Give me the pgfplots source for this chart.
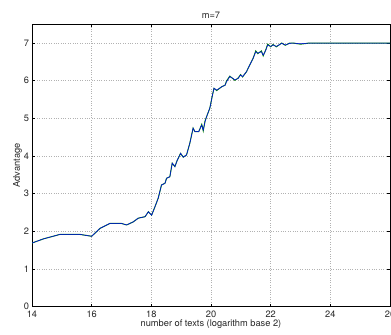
\documentclass[border=0pt]{standalone}
\usepackage{fontspec}
\setmainfont{TeX Gyre Heros}
\usepackage{pgfplots}
\pgfplotsset{compat=1.18}
\begin{document}
\begin{tikzpicture}[x=1bp,y=1bp]
\begin{axis}[
  at={(32bp,28.3bp)}, anchor=south west,
  scale only axis, width=358bp, height=282.5bp,
  xmin=14, xmax=26, ymin=0, ymax=7.5,
  xtick={14,16,...,26}, ytick={0,1,...,7},
  tick align=inside, major tick length=3bp,
  tick style={black, line width=0.5pt},
  axis line style={black, line width=0.9pt},
  grid=major, major grid style={gray!60, dotted, line width=0.6pt},
  tick label style={font=\fontsize{9.3}{11}\selectfont, text=black!85},
  /pgf/number format/assume math mode=true,
  xticklabel style={yshift=-0.5bp},
  yticklabel style={xshift=0.5bp},
  title={m=7}, title style={font=\fontsize{9.3}{11}\selectfont, yshift=-4bp, text=black!85},
  xlabel={number of texts (logarithm base 2)},
  ylabel={Advantage},
  label style={font=\fontsize{9.3}{11}\selectfont, text=black!85},
  xlabel style={yshift=4.5bp},
  ylabel style={yshift=-5bp},
]
\addplot[color={rgb,1:red,0;green,0.5;blue,0}, line width=1.0pt] coordinates {
(14.00,1.69)(14.38,1.80)(14.94,1.92)(15.6,1.92)(16.0,1.87)(16.28,2.08)(16.61,2.21)
(17.0,2.21)(17.17,2.17)(17.39,2.25)(17.56,2.35)(17.79,2.39)(17.90,2.52)(18.01,2.43)
(18.12,2.65)(18.23,2.88)(18.34,3.23)(18.46,3.28)(18.51,3.41)(18.62,3.45)(18.70,3.81)
(18.79,3.72)(18.87,3.89)(18.98,4.07)(19.07,3.97)(19.18,4.03)(19.29,4.34)(19.40,4.74)
(19.46,4.65)(19.59,4.65)(19.69,4.84)(19.74,4.67)(19.80,4.93)(19.85,5.04)(19.96,5.27)
(20.05,5.62)(20.10,5.80)(20.19,5.74)(20.36,5.84)(20.47,5.88)(20.52,5.99)(20.63,6.12)
(20.74,6.05)(20.80,6.01)(20.91,6.07)(20.99,6.16)(21.06,6.10)(21.19,6.24)(21.30,6.42)
(21.41,6.59)(21.50,6.79)(21.57,6.72)(21.69,6.79)(21.75,6.66)(21.84,6.83)(21.90,6.97)
(22.0,6.90)(22.08,6.96)(22.19,6.90)(22.37,7.00)(22.49,6.94)(22.64,7.00)(22.75,7.00)
(23.0,6.97)(23.3,7.0)(24,7.0)(25,7.0)(26,7.0)
};
\addplot[color=blue, line width=0.5pt] coordinates {
(14.00,1.69)(14.38,1.80)(14.94,1.92)(15.6,1.92)(16.0,1.87)(16.28,2.08)(16.61,2.21)
(17.0,2.21)(17.17,2.17)(17.39,2.25)(17.56,2.35)(17.79,2.39)(17.90,2.52)(18.01,2.43)
(18.12,2.65)(18.23,2.88)(18.34,3.23)(18.46,3.28)(18.51,3.41)(18.62,3.45)(18.70,3.81)
(18.79,3.72)(18.87,3.89)(18.98,4.07)(19.07,3.97)(19.18,4.03)(19.29,4.34)(19.40,4.74)
(19.46,4.65)(19.59,4.65)(19.69,4.82)(19.74,4.69)(19.80,4.91)(19.85,5.04)(19.96,5.27)
(20.05,5.62)(20.10,5.80)(20.19,5.75)(20.36,5.84)(20.47,5.88)(20.52,5.97)(20.63,6.11)
(20.74,6.06)(20.80,6.02)(20.91,6.06)(20.99,6.15)(21.06,6.11)(21.19,6.24)(21.30,6.42)
(21.41,6.59)(21.50,6.77)(21.57,6.73)(21.69,6.77)(21.75,6.68)(21.84,6.81)(21.90,6.95)
(22.0,6.91)(22.08,6.95)(22.19,6.91)(22.37,6.99)(22.49,6.95)(22.64,6.99)(22.75,7.00)
(23.0,6.98)(23.3,7.0)(24,7.0)(25,7.0)(26,7.0)
};
\end{axis}
\pgfresetboundingbox
\path[use as bounding box] (0,0) rectangle (391bp,335bp);
\end{tikzpicture}
\end{document}
